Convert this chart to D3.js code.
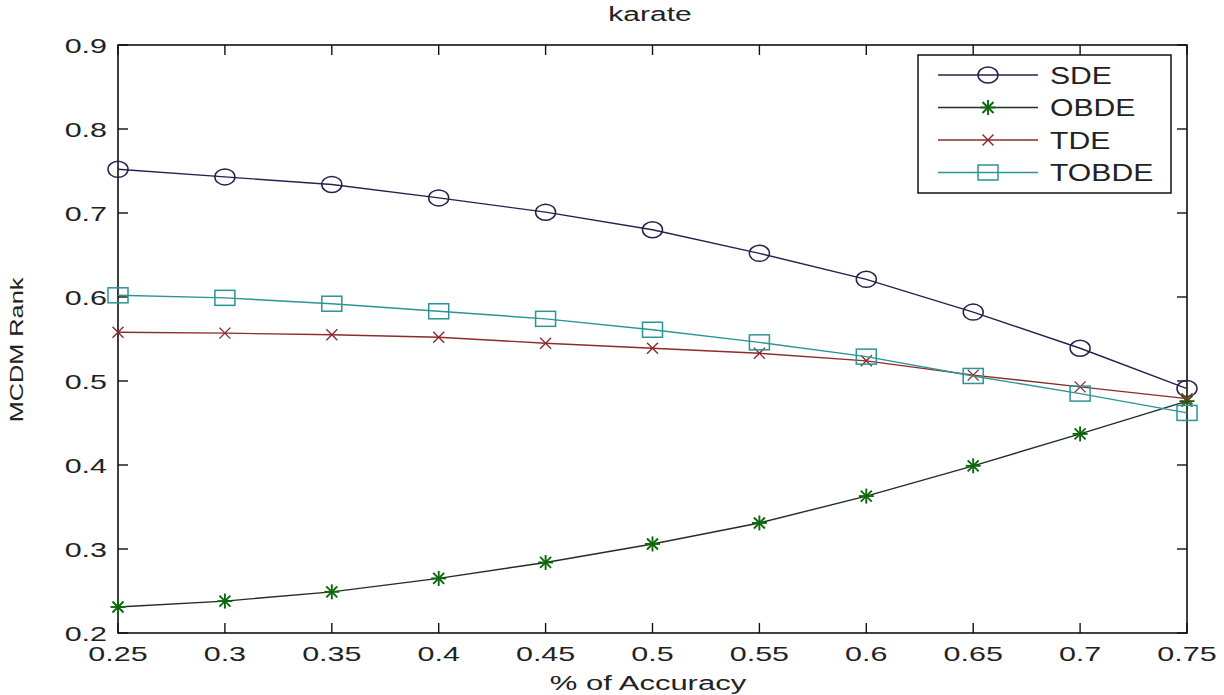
<!DOCTYPE html>
<html>
<head>
<meta charset="utf-8">
<script src="https://d3js.org/d3.v7.min.js"></script>
<style>
  body { margin: 0; background: #fff; }
  text { font-family: "Liberation Sans", Arial, sans-serif; fill: #222; }
</style>
</head>
<body>
<div id="chart"></div>
<script>
// data
var accuracy = [0.25, 0.3, 0.35, 0.4, 0.45, 0.5, 0.55, 0.6, 0.65, 0.7, 0.75];
var sde   = [0.752, 0.743, 0.734, 0.718, 0.701, 0.680, 0.652, 0.621, 0.582, 0.539, 0.491];
var obde  = [0.231, 0.238, 0.249, 0.265, 0.284, 0.306, 0.331, 0.363, 0.399, 0.437, 0.476];
var tde   = [0.558, 0.557, 0.555, 0.552, 0.545, 0.539, 0.533, 0.524, 0.507, 0.493, 0.479];
var tobde = [0.602, 0.599, 0.592, 0.583, 0.574, 0.561, 0.546, 0.529, 0.506, 0.485, 0.462];
var xTicks = ["0.25", "0.3", "0.35", "0.4", "0.45", "0.5", "0.55", "0.6", "0.65", "0.7", "0.75"];
var yTicks = ["0.2", "0.3", "0.4", "0.5", "0.6", "0.7", "0.8", "0.9"];

var series = [
  {name: "SDE",   values: sde,   line: "#22224e", mark: "#22224e", marker: "circle"},
  {name: "OBDE",  values: obde,  line: "#1d301d", mark: "#0c680c", marker: "star"},
  {name: "TDE",   values: tde,   line: "#8c2b2b", mark: "#8c2b2b", marker: "cross"},
  {name: "TOBDE", values: tobde, line: "#2b9494", mark: "#2b9494", marker: "square"}
];

// plot box (window.top is reserved, so use own names)
var W = 1224, H = 695;
var pLeft = 118, pRight = 1187, pTop = 45, pBottom = 633;

var svg = d3.select("#chart").append("svg")
  .attr("width", W).attr("height", H);

var x = d3.scaleLinear().domain([0.25, 0.75]).range([pLeft, pRight]);
var y = d3.scaleLinear().domain([0.2, 0.9]).range([pBottom, pTop]);

// stretch text horizontally like the old bitmap font
function stretch(sel, k) {
  sel.each(function() {
    var w = this.getComputedTextLength();
    d3.select(this).attr("textLength", w * k).attr("lengthAdjust", "spacingAndGlyphs");
  });
}

// box + inward ticks on all four sides
svg.append("rect")
  .attr("x", pLeft).attr("y", pTop)
  .attr("width", pRight - pLeft).attr("height", pBottom - pTop)
  .attr("fill", "none").attr("stroke", "#111").attr("stroke-width", 1.6);

var tk = 10;
xTicks.forEach(function(t) {
  var px = x(+t);
  svg.append("line").attr("x1", px).attr("x2", px).attr("y1", pBottom).attr("y2", pBottom - tk)
    .attr("stroke", "#111").attr("stroke-width", 1.4);
  svg.append("line").attr("x1", px).attr("x2", px).attr("y1", pTop).attr("y2", pTop + tk)
    .attr("stroke", "#111").attr("stroke-width", 1.4);
  svg.append("text").attr("x", px).attr("y", 661)
    .attr("text-anchor", "middle").style("font-size", "21px").text(t)
    .call(stretch, 1.45);
});
yTicks.forEach(function(t) {
  var py = y(+t);
  svg.append("line").attr("x1", pLeft).attr("x2", pLeft + tk).attr("y1", py).attr("y2", py)
    .attr("stroke", "#111").attr("stroke-width", 1.4);
  svg.append("line").attr("x1", pRight).attr("x2", pRight - tk).attr("y1", py).attr("y2", py)
    .attr("stroke", "#111").attr("stroke-width", 1.4);
  svg.append("text").attr("x", 107).attr("y", py + 7.5)
    .attr("text-anchor", "end").style("font-size", "21px").text(t)
    .call(stretch, 1.45);
});

// title and axis labels
svg.append("text").attr("x", 650).attr("y", 21).attr("text-anchor", "middle")
  .style("font-size", "20px").text("karate").call(stretch, 1.5);
svg.append("text").attr("x", 648).attr("y", 690).attr("text-anchor", "middle")
  .style("font-size", "20px").text("% of Accuracy").call(stretch, 1.55);
svg.append("text").attr("transform", "translate(23,350) rotate(-90)")
  .attr("text-anchor", "middle").style("font-size", "19px").text("MCDM Rank").call(stretch, 1.33);

// markers
function drawMarker(g, type, cx, cy, color) {
  if (type === "circle") {
    g.append("ellipse").attr("cx", cx).attr("cy", cy).attr("rx", 10).attr("ry", 8)
      .attr("fill", "none").attr("stroke", color).attr("stroke-width", 1.5);
  } else if (type === "square") {
    g.append("rect").attr("x", cx - 10).attr("y", cy - 7.5).attr("width", 20).attr("height", 15)
      .attr("fill", "none").attr("stroke", color).attr("stroke-width", 1.5);
  } else if (type === "star") {
    var s = 7.5, d = 5.5;
    [[-s, 0, s, 0], [0, -s, 0, s], [-d, -d, d, d], [-d, d, d, -d]].forEach(function(l) {
      g.append("line").attr("x1", cx + l[0]).attr("y1", cy + l[1]).attr("x2", cx + l[2]).attr("y2", cy + l[3])
        .attr("stroke", color).attr("stroke-width", 1.9);
    });
  } else if (type === "cross") {
    var c = 5.5;
    [[-c, -c, c, c], [-c, c, c, -c]].forEach(function(l) {
      g.append("line").attr("x1", cx + l[0]).attr("y1", cy + l[1]).attr("x2", cx + l[2]).attr("y2", cy + l[3])
        .attr("stroke", color).attr("stroke-width", 1.4);
    });
  }
}

var line = d3.line()
  .x(function(d, i) { return x(accuracy[i]); })
  .y(function(d) { return y(d); });

series.forEach(function(s) {
  var g = svg.append("g");
  g.append("path").attr("d", line(s.values))
    .attr("fill", "none").attr("stroke", s.line).attr("stroke-width", 1.4);
  s.values.forEach(function(v, i) {
    drawMarker(g, s.marker, x(accuracy[i]), y(v), s.mark);
  });
});

// legend
var lg = svg.append("g");
lg.append("rect").attr("x", 918).attr("y", 55).attr("width", 253).attr("height", 138)
  .attr("fill", "#fff").attr("stroke", "#111").attr("stroke-width", 1.5);
series.forEach(function(s, i) {
  var ly = 75 + i * 32.5;
  lg.append("line").attr("x1", 938).attr("x2", 1038).attr("y1", ly).attr("y2", ly)
    .attr("stroke", s.line).attr("stroke-width", 1.4);
  drawMarker(lg, s.marker, 988, ly, s.mark);
  lg.append("text").attr("x", 1050).attr("y", ly + 8.5)
    .style("font-size", "23px").text(s.name).call(stretch, 1.31);
});
</script>
</body>
</html>
